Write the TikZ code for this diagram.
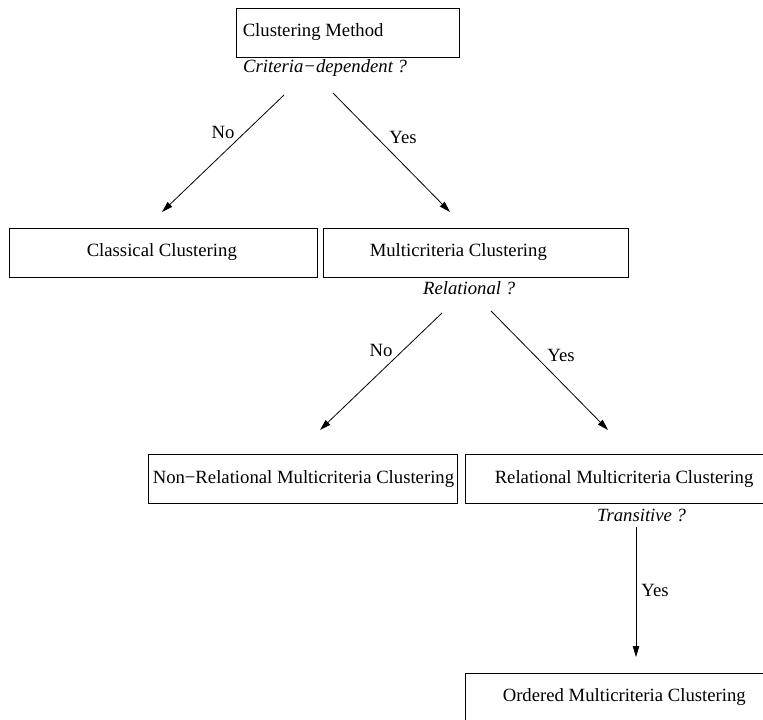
\documentclass[tikz,border=0pt]{standalone}
\usepackage{fontspec}
\setmainfont{Liberation Serif}
\usetikzlibrary{arrows.meta}
\tikzset{
  box/.style={draw, line width=0.9pt, minimum height=49pt, inner sep=0pt},
  txt/.style={inner sep=0pt, anchor=west, font=\fontsize{18.7pt}{22pt}\selectfont},
  ask/.style={txt, font=\fontsize{18.7pt}{22pt}\selectfont\itshape},
  lbl/.style={txt, anchor=center},
  arr/.style={-{Triangle[length=11pt,width=6.5pt]}, line width=0.8pt},
}
\begin{document}
\begin{tikzpicture}[x=1pt,y=-1pt]
   \clip (0,0) rectangle (763,720);

   \node[box, minimum width=223pt] (method) at (347.5,32.5) {};
   \node[txt] (method-t) at ([xshift=7pt]method.west) {Clustering Method};
   \node[ask] (crit) at (243,68) {Criteria−dependent ?};

   \node[box, minimum width=308pt] (classic) at (163,252.5) {};
   \node[txt] (classic-t) at ([xshift=78pt]classic.west) {Classical Clustering};
   \node[box, minimum width=305pt] (multi) at (475.5,252.5) {};
   \node[txt] (multi-t) at ([xshift=47pt]multi.west) {Multicriteria Clustering};
   \node[ask] (relq) at (423,288) {Relational ?};

   \node[box, minimum width=309pt] (nonrel) at (302.5,479) {};
   \node[txt] (nonrel-t) at ([xshift=5pt]nonrel.west) {Non−Relational Multicriteria Clustering};
   \node[box, minimum width=310pt] (rel) at (620,479) {};
   \node[txt] (rel-t) at ([xshift=30pt]rel.west) {Relational Multicriteria Clustering};
   \node[ask] (transq) at (597,515) {Transitive ?};

   \node[box, minimum width=310pt] (ordered) at (620,697.5) {};
   \node[txt] (ordered-t) at ([xshift=38pt]ordered.west) {Ordered Multicriteria Clustering};

   \coordinate (crit-no) at (284,95);
   \coordinate (crit-yes) at (333,93);
   \coordinate (classic-in) at (162,212);
   \coordinate (multi-in) at (450,212);
   \coordinate (relq-no) at (442,313);
   \coordinate (relq-yes) at (491,311);
   \coordinate (nonrel-in) at (320,430);
   \coordinate (rel-in) at (608,430);
   \coordinate (transq-yes) at (636,527);
   \coordinate (ordered-in) at (636,657);

   \draw[arr] (crit-no) -- (classic-in);
   \draw[arr] (crit-yes) -- (multi-in);
   \draw[arr] (relq-no) -- (nonrel-in);
   \draw[arr] (relq-yes) -- (rel-in);
   \draw[arr] (transq-yes) -- (ordered-in);

   \node[lbl] (no1) at (223,132) {No};
   \node[lbl] (yes1) at (403,137) {Yes};
   \node[lbl] (no2) at (381,350) {No};
   \node[lbl] (yes2) at (561,355) {Yes};
   \node[lbl] (yes3) at (655,590) {Yes};
 \end{tikzpicture}
\end{document}
